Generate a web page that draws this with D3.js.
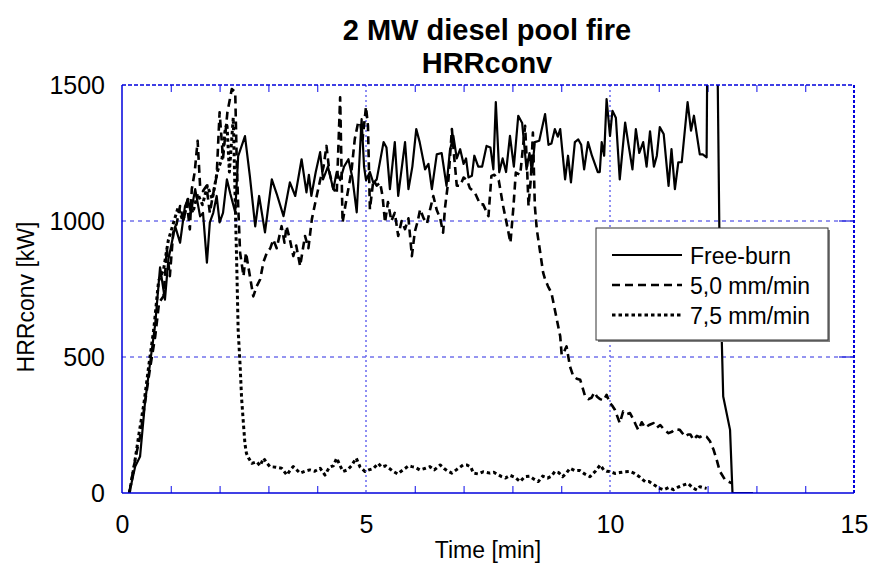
<!DOCTYPE html>
<html><head><meta charset="utf-8">
<script src="https://cdn.jsdelivr.net/npm/d3@7"></script>
<style>body{margin:0;background:#fff}svg{display:block;font-family:Arial,"Liberation Sans",sans-serif}</style>
</head><body><svg id="c" width="872" height="572"></svg>
<script>
const seriesNames = ["Free-burn", "5,0 mm/min", "7,5 mm/min"];
const xTicks = [0, 5, 10, 15];
const yTicks = [0, 500, 1000, 1500];
const xMinor = [1,2,3,4,6,7,8,9,11,12,13,14];

// [time (min), HRRconv (kW)]
const freeBurn = [[0.15,0],[0.27,97],[0.37,134],[0.47,330],[0.57,470],[0.68,620],[0.78,830],[0.88,711],[0.95,858],[1.02,920],[1.09,980],[1.19,920],[1.29,1054],[1.35,1080],[1.41,1030],[1.5,1117],[1.6,1017],[1.66,1030],[1.74,847],[1.8,995],[1.87,1030],[1.94,1092],[2.0,995],[2.07,1030],[2.15,1153],[2.22,1100],[2.32,1032],[2.38,1238],[2.52,1312],[2.62,1165],[2.73,980],[2.81,1092],[2.93,958],[3.07,1153],[3.17,1100],[3.31,1018],[3.44,1142],[3.55,1092],[3.68,1227],[3.78,1105],[3.83,1170],[3.88,1092],[3.97,1180],[4.06,1253],[4.12,1153],[4.22,1200],[4.33,1117],[4.4,1180],[4.47,1150],[4.55,1200],[4.64,1227],[4.72,1160],[4.81,1032],[4.91,1375],[4.96,1200],[5.0,1150],[5.08,1180],[5.15,1140],[5.22,1153],[5.36,1290],[5.42,1270],[5.49,1117],[5.59,1290],[5.66,1092],[5.8,1290],[5.87,1117],[5.95,1200],[6.03,1338],[6.1,1290],[6.21,1190],[6.28,1210],[6.35,1117],[6.45,1245],[6.55,1250],[6.65,1129],[6.72,1260],[6.79,1313],[6.86,1230],[6.93,1264],[7.0,1210],[7.05,1230],[7.1,1160],[7.17,1166],[7.22,1240],[7.3,1200],[7.38,1200],[7.47,1276],[7.55,1270],[7.61,1190],[7.66,1437],[7.73,1179],[7.8,1230],[7.87,1180],[7.95,1313],[8.03,1200],[8.12,1387],[8.2,1360],[8.29,1190],[8.35,1250],[8.4,1180],[8.46,1290],[8.55,1295],[8.67,1393],[8.74,1280],[8.8,1285],[8.87,1338],[8.93,1310],[8.98,1338],[9.08,1153],[9.14,1240],[9.2,1142],[9.28,1290],[9.35,1300],[9.41,1280],[9.47,1190],[9.55,1290],[9.63,1240],[9.75,1180],[9.79,1180],[9.83,1290],[9.88,1240],[9.93,1448],[10.0,1313],[10.05,1405],[10.12,1380],[10.2,1153],[10.31,1362],[10.38,1280],[10.46,1190],[10.53,1338],[10.6,1250],[10.68,1290],[10.75,1200],[10.82,1330],[10.9,1200],[10.96,1240],[11.02,1345],[11.1,1320],[11.2,1129],[11.26,1264],[11.33,1117],[11.4,1216],[11.47,1216],[11.59,1437],[11.66,1332],[11.72,1387],[11.84,1245],[11.9,1245],[11.98,1234],[12.0,1800],[12.19,1800],[12.24,980],[12.29,564],[12.32,355],[12.46,232],[12.51,0],[12.93,0]];

const rate50 = [[0.15,0],[0.23,85],[0.3,150],[0.37,206],[0.47,331],[0.57,453],[0.68,575],[0.76,700],[0.85,723],[0.92,895],[0.98,797],[1.05,958],[1.12,990],[1.19,1055],[1.26,1000],[1.33,1068],[1.39,969],[1.43,1117],[1.49,1180],[1.55,1295],[1.6,1129],[1.66,1110],[1.73,1129],[1.8,1030],[1.86,1092],[1.94,1166],[2.0,1400],[2.07,1230],[2.16,1400],[2.25,1485],[2.32,1474],[2.35,1227],[2.38,1060],[2.42,884],[2.49,797],[2.54,884],[2.6,820],[2.69,723],[2.76,760],[2.83,785],[2.9,850],[2.97,884],[3.04,900],[3.1,932],[3.17,900],[3.27,981],[3.33,920],[3.37,981],[3.44,932],[3.51,871],[3.57,910],[3.65,834],[3.75,945],[3.82,900],[3.89,1006],[3.94,1050],[3.99,1092],[4.06,1150],[4.13,1200],[4.19,1276],[4.25,1180],[4.33,1120],[4.4,1100],[4.47,1455],[4.52,994],[4.58,1060],[4.64,1120],[4.7,1180],[4.77,1301],[4.84,1363],[4.88,1362],[4.93,1300],[5.0,1420],[5.04,1350],[5.08,1043],[5.15,1150],[5.22,1130],[5.29,1141],[5.34,1090],[5.39,994],[5.45,1070],[5.52,1000],[5.59,1030],[5.66,945],[5.73,1000],[5.8,970],[5.87,1010],[5.94,871],[6.0,960],[6.06,1000],[6.11,1043],[6.18,1010],[6.25,990],[6.31,1040],[6.38,1092],[6.45,1040],[6.52,1010],[6.58,957],[6.62,1050],[6.69,1153],[6.76,1338],[6.8,1250],[6.86,1130],[6.93,1129],[7.0,1160],[7.07,1150],[7.13,1120],[7.23,1105],[7.34,1061],[7.4,1061],[7.51,1018],[7.57,1166],[7.63,1170],[7.72,1150],[7.81,1055],[7.88,994],[7.96,920],[8.02,1050],[8.07,1178],[8.16,1170],[8.26,1350],[8.3,1200],[8.33,1055],[8.38,1160],[8.42,1325],[8.46,1055],[8.5,969],[8.57,884],[8.63,810],[8.67,785],[8.73,760],[8.8,736],[8.87,674],[8.93,620],[8.98,576],[9.01,508],[9.06,520],[9.11,539],[9.18,465],[9.25,428],[9.32,420],[9.39,416],[9.45,380],[9.49,355],[9.56,345],[9.62,350],[9.68,370],[9.73,355],[9.8,345],[9.87,340],[9.93,361],[10.0,330],[10.05,320],[10.1,306],[10.2,257],[10.27,300],[10.34,290],[10.41,294],[10.48,270],[10.53,250],[10.58,232],[10.65,260],[10.72,240],[10.8,250],[10.89,257],[10.96,240],[11.03,250],[11.1,235],[11.2,220],[11.27,225],[11.33,235],[11.43,232],[11.54,207],[11.6,215],[11.65,215],[11.71,195],[11.78,210],[11.84,205],[11.9,212],[11.98,207],[12.05,190],[12.12,160],[12.19,120],[12.25,80],[12.36,48],[12.49,36]];

const rate75 = [[0.15,0],[0.25,100],[0.35,220],[0.45,330],[0.55,470],[0.65,600],[0.75,780],[0.85,820],[0.95,930],[1.05,990],[1.15,1050],[1.25,1000],[1.35,1080],[1.45,1030],[1.55,1100],[1.65,1060],[1.75,1130],[1.85,1080],[1.95,1180],[2.05,1230],[2.11,1330],[2.15,1360],[2.2,1180],[2.28,1380],[2.32,1070],[2.35,850],[2.38,600],[2.42,470],[2.45,350],[2.49,250],[2.52,180],[2.55,146],[2.59,130],[2.66,109],[2.76,115],[2.83,100],[2.9,128],[2.97,110],[3.03,97],[3.15,95],[3.27,91],[3.38,66],[3.45,85],[3.51,97],[3.58,85],[3.65,73],[3.75,80],[3.85,85],[3.95,80],[4.06,91],[4.16,66],[4.25,95],[4.33,100],[4.4,128],[4.47,100],[4.53,79],[4.62,85],[4.7,100],[4.8,128],[4.88,95],[4.98,79],[5.06,85],[5.15,90],[5.25,109],[5.32,95],[5.4,100],[5.48,90],[5.56,79],[5.65,70],[5.72,80],[5.8,90],[5.87,100],[5.94,97],[6.0,95],[6.1,85],[6.2,90],[6.31,97],[6.4,85],[6.52,103],[6.6,90],[6.68,80],[6.76,73],[6.85,85],[6.99,103],[7.07,103],[7.15,95],[7.2,73],[7.3,70],[7.4,78],[7.54,73],[7.62,76],[7.7,68],[7.78,60],[7.86,55],[7.95,65],[8.05,58],[8.16,42],[8.25,60],[8.35,62],[8.45,50],[8.53,42],[8.62,62],[8.72,55],[8.8,62],[8.87,79],[8.95,75],[9.03,60],[9.1,72],[9.18,91],[9.28,82],[9.38,83],[9.48,70],[9.59,60],[9.7,80],[9.8,103],[9.87,85],[9.93,80],[10.0,79],[10.1,72],[10.2,75],[10.3,78],[10.41,79],[10.5,72],[10.6,60],[10.72,42],[10.8,42],[10.9,30],[11.02,17],[11.1,12],[11.2,20],[11.3,12],[11.4,22],[11.5,29],[11.6,35],[11.7,18],[11.78,11],[11.84,23],[11.9,20],[11.98,17]];

const svg = d3.select("#c");
const L = 122, R = 854, T = 85, B = 493;
const x = d3.scaleLinear().domain([0, 15]).range([L, R]);
const y = d3.scaleLinear().domain([0, 1500]).range([B, T]);
const FONT = "Arial, 'Liberation Sans', sans-serif";

// title
svg.append("text").attr("x", 487).attr("y", 40).attr("text-anchor", "middle")
  .attr("font-size", 29).attr("font-weight", "bold").text("2 MW diesel pool fire");
svg.append("text").attr("x", 487).attr("y", 73).attr("text-anchor", "middle")
  .attr("font-size", 29).attr("font-weight", "bold").text("HRRconv");

// grid
svg.append("g").selectAll("line").data([500, 1000]).join("line")
  .attr("x1", L).attr("x2", R).attr("y1", d => y(d)).attr("y2", d => y(d))
  .attr("stroke", "#2a2ae0").attr("stroke-width", 1).attr("stroke-dasharray", "4,4");
svg.append("g").selectAll("line").data([5, 10]).join("line")
  .attr("x1", d => x(d)).attr("x2", d => x(d)).attr("y1", T).attr("y2", B)
  .attr("stroke", "#6a6af0").attr("stroke-width", 1.5).attr("stroke-dasharray", "2,3");

// minor ticks
const tickBlue = "#3333ee";
svg.append("g").attr("transform", `translate(0,${B})`)
  .call(d3.axisBottom(x).tickValues(xMinor).tickSize(-7).tickFormat(""))
  .call(g => g.select(".domain").remove())
  .call(g => g.selectAll("line").attr("stroke", tickBlue).attr("stroke-width", 1.2));
svg.append("g").attr("transform", `translate(0,${T})`)
  .call(d3.axisTop(x).tickValues(xMinor).tickSize(-7).tickFormat(""))
  .call(g => g.select(".domain").remove())
  .call(g => g.selectAll("line").attr("stroke", tickBlue).attr("stroke-width", 1.2));
svg.append("g").selectAll("line").data([500, 1000]).join("line")
  .attr("x1", R - 15).attr("x2", R).attr("y1", d => y(d)).attr("y2", d => y(d))
  .attr("stroke", "#2222dd").attr("stroke-width", 1.2);

// tick labels
svg.append("g").attr("transform", `translate(0,${B})`)
  .call(d3.axisBottom(x).tickValues(xTicks).tickSize(0).tickPadding(22).tickFormat(d3.format("d")))
  .call(g => g.select(".domain").remove())
  .call(g => g.selectAll("text").attr("font-size", 25).attr("font-family", FONT).attr("fill", "#000"));
svg.append("g").attr("transform", `translate(${L},0)`)
  .call(d3.axisLeft(y).tickValues(yTicks).tickSize(0).tickPadding(17).tickFormat(d3.format("d")))
  .call(g => g.select(".domain").remove())
  .call(g => g.selectAll("text").attr("font-size", 25).attr("font-family", FONT).attr("fill", "#000"));

// axis titles
svg.append("text").attr("x", 488).attr("y", 558).attr("text-anchor", "middle")
  .attr("font-size", 23).text("Time [min]");
svg.append("text").attr("transform", "translate(34,297) rotate(-90)").attr("text-anchor", "middle")
  .attr("font-size", 23).text("HRRconv [kW]");

// data lines
svg.append("defs").append("clipPath").attr("id", "clip")
  .append("rect").attr("x", L).attr("y", T).attr("width", R - L).attr("height", B - T);
const line = d3.line().x(d => x(d[0])).y(d => y(d[1]));
const styles = [
  {data: freeBurn, dash: null, w: 2.2},
  {data: rate50, dash: "8,5", w: 2.6},
  {data: rate75, dash: "3.5,3", w: 3}
];
const plot = svg.append("g").attr("clip-path", "url(#clip)");
styles.forEach(s => {
  plot.append("path").attr("d", line(s.data)).attr("fill", "none")
    .attr("stroke", "#000").attr("stroke-width", s.w)
    .attr("stroke-dasharray", s.dash).attr("stroke-linejoin", "round");
});

// frame
const frameBlue = "#0000dd";
svg.append("line").attr("x1", L).attr("x2", L).attr("y1", T).attr("y2", B).attr("stroke", frameBlue).attr("stroke-width", 1.5);
svg.append("line").attr("x1", L).attr("x2", R).attr("y1", B).attr("y2", B).attr("stroke", frameBlue).attr("stroke-width", 1.5);
svg.append("line").attr("x1", L).attr("x2", R).attr("y1", T).attr("y2", T).attr("stroke", frameBlue).attr("stroke-width", 1.5).attr("stroke-dasharray", "4,2");
svg.append("line").attr("x1", R).attr("x2", R).attr("y1", T).attr("y2", B).attr("stroke", frameBlue).attr("stroke-width", 2).attr("stroke-dasharray", "3,2");

// legend
const lg = svg.append("g");
const lx = 596, ly = 228, lw = 232, lh = 112;
lg.append("rect").attr("x", lx + 2).attr("y", ly + 2).attr("width", lw).attr("height", lh).attr("fill", "#808080");
lg.append("rect").attr("x", lx).attr("y", ly).attr("width", lw).attr("height", lh).attr("fill", "#fff").attr("stroke", "#333").attr("stroke-width", 1);
styles.forEach((s, i) => {
  const yy = 255 + i * 30;
  lg.append("line").attr("x1", 612).attr("x2", 682).attr("y1", yy).attr("y2", yy)
    .attr("stroke", "#000").attr("stroke-width", s.w).attr("stroke-dasharray", s.dash);
  lg.append("text").attr("x", 690).attr("y", yy + 9).attr("font-size", 23).text(seriesNames[i]);
});
</script></body></html>
